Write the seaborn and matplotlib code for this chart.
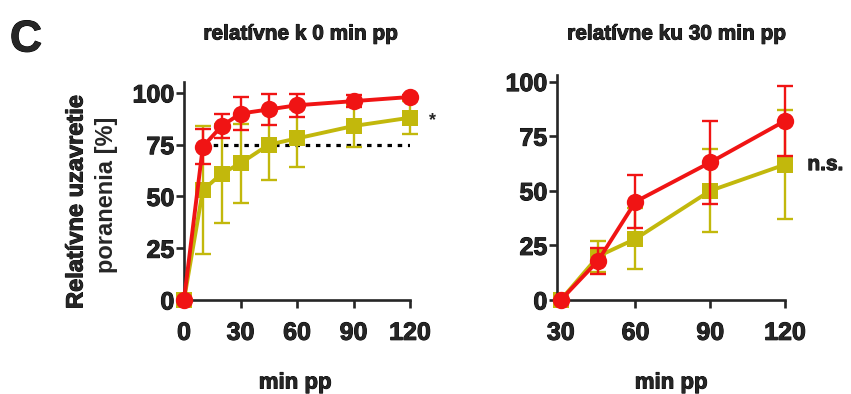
import pandas as pd
import matplotlib.pyplot as plt
import matplotlib.patheffects as pe
import seaborn as sns

# panel 1: relative to 0 min pp
t_left = [0, 10, 20, 30, 45, 60, 90, 120]
red_left = [0, 74, 84, 90, 92, 94, 96, 98]
red_left_sem = [0, 8.5, 6, 8, 7.5, 5.5, 3, 1]
yel_left = [0, 53, 61, 66, 75, 78, 84, 88]
yel_left_sem = [0, 31, 24, 19, 17, 14, 10, 8]

# panel 2: relative to 30 min pp
t_right = [30, 45, 60, 90, 120]
red_right = [0, 18, 45, 63, 82]
red_right_sem = [0, 6, 12, 19, 16]
yel_right = [0, 20, 28, 50, 62]
yel_right_sem = [0, 7, 14, 19, 25]

x_ticks_left = [0, 30, 60, 90, 120]
x_ticks_right = [30, 60, 90, 120]
y_ticks = [0, 25, 50, 75, 100]

RED = '#f01414'
YEL = '#c2b80c'

sns.set_style('ticks')
plt.rcParams['font.family'] = ['Liberation Sans', 'DejaVu Sans']
plt.rcParams['font.weight'] = 'bold'

# slightly heavier text, the original uses a very bold face
heavy = [pe.withStroke(linewidth=0.7, foreground='black')]

W, H = 851, 394
fig = plt.figure(figsize=(W / 100, H / 100), dpi=100)


def px_axes(left, top, right, bottom):
    return fig.add_axes([left / W, 1 - bottom / H, (right - left) / W, (bottom - top) / H])


def draw_series(ax, t, mean, sem, color, marker, ms, z):
    df = pd.DataFrame({'min': t, 'val': mean, 'sem': sem})
    ax.errorbar(df['min'], df['val'], yerr=df['sem'], fmt='none', ecolor=color,
                elinewidth=1.7, capsize=5.5, capthick=1.7, zorder=z, clip_on=False)
    sns.lineplot(data=df, x='min', y='val', ax=ax, color=color, marker=marker,
                 markersize=ms, markeredgewidth=0, linewidth=2.8, zorder=z + 0.5,
                 clip_on=False, estimator=None, sort=False)


def style_axes(ax, xticks):
    sns.despine(ax=ax)
    for s in ['left', 'bottom']:
        ax.spines[s].set_linewidth(1.9)
    ax.tick_params(width=1.9, length=6, labelsize=18, direction='out')
    ax.tick_params(axis='y', pad=1)
    ax.tick_params(axis='x', pad=9)
    ax.set_xticks(xticks)
    ax.set_yticks(y_ticks)
    for lab in ax.get_xticklabels() + ax.get_yticklabels():
        lab.set_fontweight('bold')
        lab.set_path_effects(heavy)
    ax.set_xlabel('')
    ax.set_ylabel('')


def label(x, y, s, size, **kw):
    t = fig.text(x / W, 1 - y / H, s, fontsize=size, fontweight='bold',
                 ha='center', va='center', **kw)
    t.set_path_effects(heavy)
    return t


# left panel
ax1 = px_axes(184, 82.5, 410, 300)
ax1.set_xlim(0, 120)
ax1.set_ylim(0, 105)
ax1.plot([10, 120], [75, 75], color='black', linewidth=2.3,
         linestyle=(0, (1.4, 1.8)), zorder=1)
draw_series(ax1, t_left, yel_left, yel_left_sem, YEL, 's', 11.5, 2)
draw_series(ax1, t_left, red_left, red_left_sem, RED, 'o', 12.5, 3)
style_axes(ax1, x_ticks_left)
ax1.text(132, 86.5, '*', fontsize=13, fontweight='bold', ha='center', va='center')

# right panel
ax2 = px_axes(557, 75, 785, 300)
ax2.set_xlim(28.5, 120)
ax2.set_ylim(0, 103)
draw_series(ax2, t_right, yel_right, yel_right_sem, YEL, 's', 11.5, 2)
draw_series(ax2, t_right, red_right, red_right_sem, RED, 'o', 12.5, 3)
style_axes(ax2, x_ticks_right)
ns = ax2.text(129, 62, 'n.s.', fontsize=15, fontweight='bold', ha='left', va='center')
ns.set_path_effects(heavy)

# titles and labels
label(301, 34, 'relatívne k 0 min pp', 15)
label(677, 34, 'relatívne ku 30 min pp', 15)
label(295, 383, 'min pp', 16)
label(671, 383, 'min pp', 16)
label(76, 202, 'Relatívne uzavretie', 17, rotation=90)
fig.text(106 / W, 1 - 195 / H, 'poranenia [%]', fontsize=17, fontweight='bold',
         rotation=90, ha='center', va='center')
label(26, 40, 'C', 32)

fig.savefig('out.png', dpi=100)
